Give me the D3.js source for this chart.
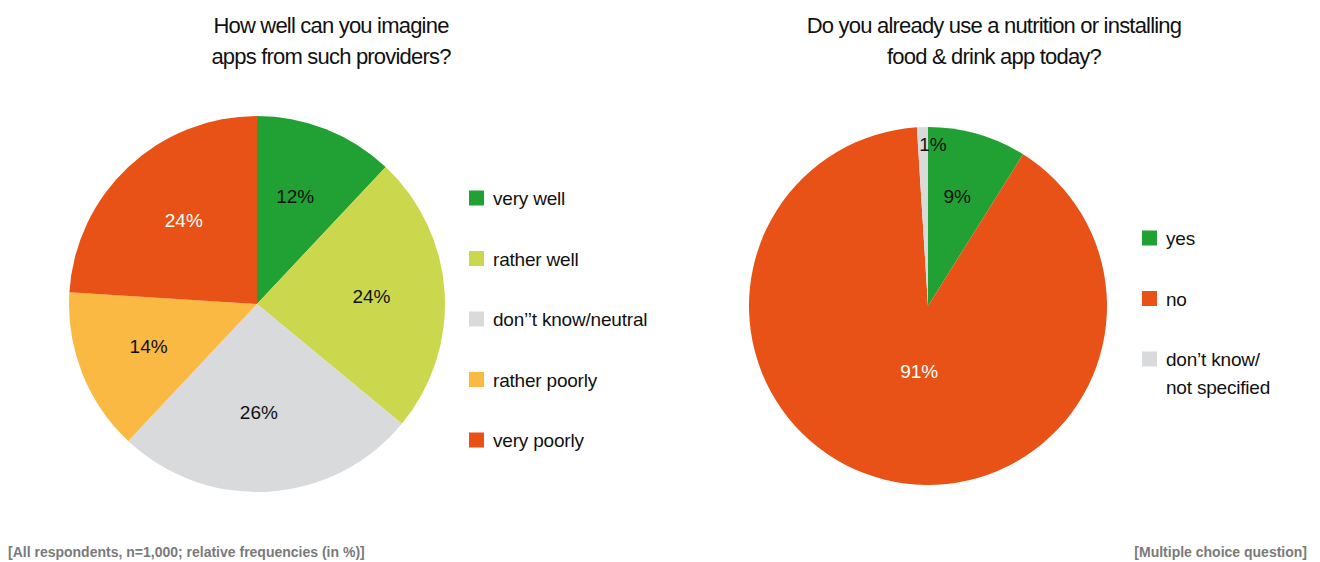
<!DOCTYPE html>
<html>
<head>
<meta charset="utf-8">
<script src="https://cdn.jsdelivr.net/npm/d3@7"></script>
<style>
  body { margin: 0; background: #fff; }
  text { font-family: "Liberation Sans", Arial, sans-serif; }
</style>
</head>
<body>
<div id="vis"></div>
<script>
// data
const TITLE_1 = ["How well can you imagine", "apps from such providers?"];
const CATEGORIES_1 = ["very well", "rather well", "don\u2019\u2019t know/neutral", "rather poorly", "very poorly"];
const VALUES_1 = [12, 24, 26, 14, 24];
const COLORS_1 = ["#21a033", "#cbd84e", "#d9dadc", "#f9b942", "#e85216"];

const TITLE_2 = ["Do you already use a nutrition or installing", "food & drink app today?"];
const CATEGORIES_2 = [["yes"], ["no"], ["don\u2019t know/", "not specified"]];
const VALUES_2 = [9, 91, 1];
const COLORS_2 = ["#21a033", "#e85216", "#d9dadc"];

const FOOT_LEFT = "[All respondents, n=1,000; relative frequencies (in %)]";
const FOOT_RIGHT = "[Multiple choice question]";

const FRAME_WIDTH = 1320;
const FRAME_HEIGHT = 562;

const FRAME = d3.select("#vis")
  .append("svg")
  .attr("width", FRAME_WIDTH)
  .attr("height", FRAME_HEIGHT);

const pie = d3.pie().sort(null).value((d) => d);

const draw_pie = (opts) => {
  const g = FRAME.append("g")
    .attr("transform", `translate(${opts.cx}, ${opts.cy})`);

  const arc = d3.arc().innerRadius(0).outerRadius(opts.r);
  const arcs = pie(opts.values);

  g.selectAll("path")
    .data(arcs)
    .enter()
    .append("path")
    .attr("d", arc)
    .attr("fill", (d, i) => opts.colors[i]);

  g.selectAll(".lbl")
    .data(arcs)
    .enter()
    .append("text")
    .attr("class", "lbl")
    .attr("transform", (d, i) => {
      const lr = opts.r * opts.labelPos[i];
      const c = d3.arc().innerRadius(lr).outerRadius(lr).centroid(d);
      return `translate(${c[0] + opts.labelDx[i]}, ${c[1]})`;
    })
    .attr("dy", "0.3em")
    .attr("text-anchor", "middle")
    .style("font-size", "19px")
    .attr("fill", (d, i) => opts.labelColors[i])
    .text((d) => d.data + "%");

  // title
  FRAME.append("text")
    .attr("x", opts.cx + opts.titleDx)
    .attr("text-anchor", "middle")
    .style("font-size", "22px")
    .style("letter-spacing", "-0.8px")
    .attr("fill", "#111")
    .selectAll("tspan")
    .data(opts.title)
    .enter()
    .append("tspan")
    .attr("x", opts.cx + opts.titleDx)
    .attr("y", (d, i) => 33 + i * 31)
    .text((d) => d);

  // legend
  const leg = FRAME.append("g")
    .attr("transform", `translate(${opts.legX}, ${opts.legY})`);
  opts.categories.forEach((c, i) => {
    const row = leg.append("g").attr("transform", `translate(0, ${i * opts.legStep})`);
    row.append("rect")
      .attr("x", 0).attr("y", -7.5)
      .attr("width", 15).attr("height", 15)
      .attr("fill", opts.colors[i]);
    const lines = Array.isArray(c) ? c : [c];
    row.append("text")
      .attr("x", 24)
      .style("font-size", "19px")
      .style("letter-spacing", "-0.2px")
      .attr("fill", "#111")
      .selectAll("tspan")
      .data(lines)
      .enter()
      .append("tspan")
      .attr("x", 24)
      .attr("y", (d, j) => 7 + j * 28)
      .text((d) => d);
  });
};

draw_pie({
  cx: 257, cy: 304, r: 188,
  values: VALUES_1, colors: COLORS_1,
  labelPos: [0.61, 0.61, 0.58, 0.62, 0.6],
  labelDx: [-4, 0, -5, 0, 4],
  labelColors: ["#111", "#111", "#111", "#111", "#fff"],
  title: TITLE_1, titleDx: 74,
  categories: CATEGORIES_1,
  legX: 469, legY: 198, legStep: 60.5
});

draw_pie({
  cx: 928, cy: 306, r: 179,
  values: VALUES_2, colors: COLORS_2,
  labelPos: [0.63, 0.38, 0.9],
  labelDx: [-2, 8, 10],
  labelColors: ["#111", "#fff", "#111"],
  title: TITLE_2, titleDx: 66,
  categories: CATEGORIES_2,
  legX: 1142, legY: 238, legStep: 60.5
});

// footers
FRAME.append("text")
  .attr("x", 8).attr("y", 557)
  .style("font-size", "14px")
  .style("font-weight", "bold")
  .attr("fill", "#7a7a7a")
  .text(FOOT_LEFT);

FRAME.append("text")
  .attr("x", 1307).attr("y", 557)
  .attr("text-anchor", "end")
  .style("font-size", "14px")
  .style("font-weight", "bold")
  .attr("fill", "#7a7a7a")
  .text(FOOT_RIGHT);
</script>
</body>
</html>
